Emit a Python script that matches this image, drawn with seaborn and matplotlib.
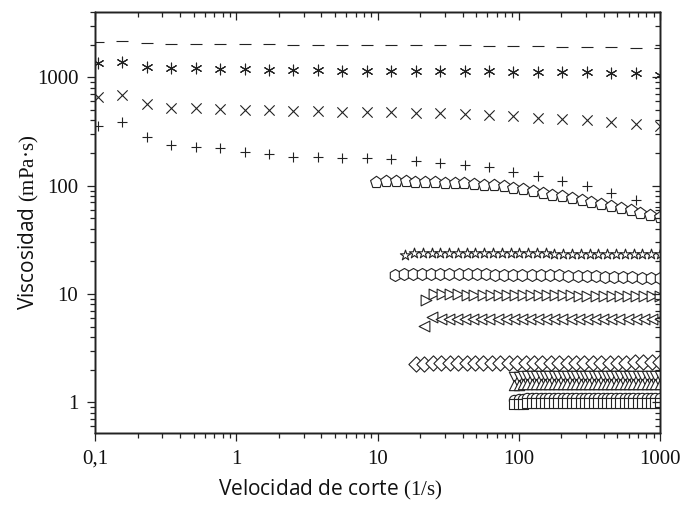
import matplotlib
matplotlib.use("Agg")
import matplotlib.pyplot as plt
import numpy as np
import pandas as pd
import seaborn as sns
from matplotlib.ticker import FixedLocator, FixedFormatter, LogLocator, NullFormatter

# ---------------- data ----------------
rate_a = [0.105, 0.156, 0.233, 0.347, 0.516, 0.769, 1.15, 1.71, 2.54, 3.78, 5.64, 8.39,
          12.5, 18.6, 27.7, 41.3, 61.5, 91.6, 136, 203, 303, 451, 671, 1000]
visc_dash = [2130, 2180, 2090, 2045, 2040, 2030, 2025, 2005, 2000, 1990, 1990, 1985,
             1985, 1980, 1975, 1970, 1960, 1950, 1935, 1915, 1900, 1885, 1870, 1850]
visc_aster = [1340, 1370, 1245, 1220, 1205, 1185, 1180, 1165, 1160, 1160, 1150, 1150,
              1150, 1150, 1150, 1145, 1145, 1125, 1125, 1110, 1110, 1100, 1090, 1050]
visc_cross = [650, 680, 570, 525, 520, 512, 503, 495, 485, 485, 477, 477,
              480, 471, 467, 461, 445, 435, 424, 409, 400, 386, 373, 355]
visc_plus = [355, 384, 282, 237, 229, 221, 205, 194, 185, 185, 181, 178,
             175, 168, 162, 155, 147, 132, 123, 111, 99, 86, 74, 63]

rate_pent = [9.79, 11.5, 13.5, 15.8, 18.5, 21.8, 25.5, 29.9, 35.1, 41.2, 48.3, 56.6, 66.4, 78.0, 91.4,
             107, 126, 148, 173, 203, 238, 279, 327, 384, 451, 528, 619, 726, 853, 1000]
visc_pent = [108.9, 109.3, 109.3, 109.3, 108.9, 108.2, 107.5, 106.6, 105.9, 105.2, 103.7, 102.1, 100.4, 98.3, 95.3,
             92.2, 89.3, 85.4, 82.4, 79.5, 76.6, 73.8, 71.1, 67.7, 64.2, 61.9, 59.0, 56.3, 53.6, 51.7]

rate_star = [15.7, 18.1, 20.9, 24.2, 27.9, 32.1, 37.1, 42.8, 49.4, 57.0, 65.8, 75.9, 87.5, 101, 117,
             135, 155, 179, 207, 239, 275, 318, 366, 424, 489, 564, 650, 750, 867, 1000]
visc_star = [23.1, 23.7, 23.8, 23.8, 23.8, 23.8, 23.8, 23.7, 23.7, 23.7, 23.7, 23.7, 23.6, 23.6, 23.6,
             23.6, 23.6, 23.5, 23.5, 23.5, 23.5, 23.5, 23.4, 23.4, 23.4, 23.4, 23.3, 23.3, 23.3, 23.3]

rate_hex = [13.2, 15.3, 17.8, 20.6, 23.9, 27.8, 32.3, 37.5, 43.5, 50.5, 58.6, 68.1, 79.1, 91.6, 106,
            124, 144, 167, 193, 224, 261, 303, 352, 407, 473, 550, 638, 741, 861, 1000]
visc_hex = [15.1, 15.2, 15.2, 15.3, 15.3, 15.3, 15.3, 15.3, 15.2, 15.2, 15.2, 15.1, 15.1, 15.0, 15.0,
            14.9, 14.9, 14.8, 14.8, 14.7, 14.6, 14.6, 14.5, 14.4, 14.3, 14.3, 14.2, 14.1, 14.0, 13.9]

rate_rtri = [22.1, 25.2, 28.7, 32.7, 37.3, 42.7, 48.6, 55.5, 63.2, 72.1, 82.2, 93.8, 107, 122, 139,
             159, 181, 207, 236, 269, 306, 350, 399, 455, 519, 592, 675, 769, 877, 1000]
visc_rtri = [8.7, 9.9, 9.9, 9.9, 9.9, 9.8, 9.8, 9.8, 9.8, 9.8, 9.8, 9.8, 9.7, 9.7, 9.7,
             9.7, 9.7, 9.7, 9.7, 9.6, 9.6, 9.6, 9.6, 9.6, 9.6, 9.6, 9.5, 9.5, 9.5, 9.5]

rate_ltri = [21.5, 24.5, 28.0, 32.0, 36.5, 41.7, 47.5, 54.3, 61.9, 70.8, 80.7, 92.3, 105, 120, 137,
             157, 179, 204, 233, 266, 303, 347, 395, 452, 515, 589, 671, 767, 875, 1000]
visc_ltri = [5.1, 6.1, 5.9, 5.9, 5.9, 5.9, 5.9, 5.9, 5.9, 5.9, 5.9, 5.9, 5.9, 5.9, 5.9,
             5.9, 5.9, 5.9, 5.9, 5.9, 5.9, 5.85, 5.85, 5.85, 5.85, 5.85, 5.85, 5.85, 5.85, 5.85]

rate_diam = [18.8, 21.5, 24.7, 28.3, 32.4, 37.2, 42.7, 49.0, 56.2, 64.4, 73.9, 84.9, 97.3, 112, 128,
             147, 169, 193, 222, 254, 292, 334, 384, 440, 505, 579, 664, 762, 873, 1000]
visc_diam = [2.25, 2.27, 2.28, 2.28, 2.29, 2.29, 2.29, 2.29, 2.30, 2.30, 2.30, 2.30, 2.30, 2.30, 2.30,
             2.31, 2.31, 2.31, 2.31, 2.31, 2.31, 2.32, 2.32, 2.32, 2.32, 2.32, 2.33, 2.33, 2.33, 2.33]

rate_low = [92.9, 99.8, 107, 115, 124, 133, 143, 154, 165, 177, 191, 205, 220, 237, 255, 274, 294,
            316, 340, 365, 392, 421, 453, 486, 522, 561, 604, 649, 697, 748, 805, 865, 929, 1000]
visc_dtri = [1.70, 1.72, 1.73, 1.73, 1.73, 1.73, 1.74, 1.74, 1.74, 1.74, 1.74, 1.74, 1.74, 1.74, 1.74, 1.74, 1.74,
             1.74, 1.74, 1.74, 1.74, 1.74, 1.74, 1.74, 1.74, 1.74, 1.74, 1.74, 1.74, 1.74, 1.73, 1.73, 1.73, 1.73]
visc_utri = [1.43, 1.45, 1.46, 1.46, 1.46, 1.46, 1.47, 1.47, 1.47, 1.47, 1.47, 1.47, 1.47, 1.47, 1.47, 1.47, 1.47,
             1.47, 1.47, 1.47, 1.47, 1.47, 1.47, 1.47, 1.47, 1.47, 1.47, 1.47, 1.47, 1.47, 1.46, 1.46, 1.46, 1.46]
visc_circ = [1.05, 1.07, 1.08, 1.09, 1.09, 1.09, 1.09, 1.09, 1.09, 1.09, 1.09, 1.10, 1.10, 1.10, 1.10, 1.10, 1.10,
             1.10, 1.10, 1.10, 1.10, 1.10, 1.10, 1.10, 1.10, 1.10, 1.10, 1.10, 1.10, 1.10, 1.10, 1.10, 1.10, 1.10]
visc_sq = [0.96, 0.97, 0.97, 0.98, 0.98, 0.98, 0.98, 0.98, 0.98, 0.98, 0.99, 0.99, 0.99, 0.99, 0.99, 0.99, 0.99,
           0.99, 0.99, 0.99, 0.99, 0.99, 0.99, 0.99, 0.99, 0.99, 0.99, 0.99, 0.99, 0.99, 0.99, 0.99, 0.99, 0.99]

x_ticks = [0.1, 1, 10, 100, 1000]
x_tick_labels = ["0,1", "1", "10", "100", "1000"]
y_ticks = [1, 10, 100, 1000]
y_tick_labels = ["1", "10", "100", "1000"]

# ---------------- styling ----------------
sns.set_theme(style="ticks")
plt.rcParams["font.family"] = ["Open Sans", "DejaVu Sans"]
plt.rcParams["mathtext.fontset"] = "custom"
plt.rcParams["mathtext.rm"] = "Liberation Serif"
plt.rcParams["mathtext.it"] = "Liberation Serif:italic"

INK = "#222222"

fig = plt.figure(figsize=(6.82, 5.08), dpi=100)
ax = fig.add_axes([95 / 682, 1 - 433 / 508, 565 / 682, 421 / 508])

series = [
    (rate_a, visc_dash, "_", 70, False),
    (rate_a, visc_aster, (6, 2, 0), 60, False),
    (rate_a, visc_cross, "x", 55, False),
    (rate_a, visc_plus, "+", 45, False),
    (rate_pent, visc_pent, "p", 80, True),
    (rate_star, visc_star, "*", 60, True),
    (rate_hex, visc_hex, "h", 75, True),
    (rate_rtri, visc_rtri, ">", 60, True),
    (rate_ltri, visc_ltri, "<", 60, True),
    (rate_diam, visc_diam, "D", 60, True),
    (rate_low, visc_dtri, "v", 55, True),
    (rate_low, visc_utri, "^", 55, True),
    (rate_low, visc_circ, "o", 55, True),
    (rate_low, visc_sq, "s", 45, True),
]

for xs, ys, mk, size, filled in series:
    df = pd.DataFrame({"rate": xs, "visc": ys})
    if filled:
        sns.scatterplot(data=df, x="rate", y="visc", marker=mk, s=size, color="white",
                        edgecolor=INK, linewidth=0.8, ax=ax, zorder=3, legend=False)
    else:
        sns.scatterplot(data=df, x="rate", y="visc", marker=mk, s=size, color=INK,
                        linewidth=0.8, ax=ax, zorder=3, legend=False)

ax.set_xscale("log")
ax.set_yscale("log")
ax.set_xlim(0.1, 1000)
ax.set_ylim(0.52, 4000)

ax.xaxis.set_major_locator(FixedLocator(x_ticks))
ax.xaxis.set_major_formatter(FixedFormatter(x_tick_labels))
ax.yaxis.set_major_locator(FixedLocator(y_ticks))
ax.yaxis.set_major_formatter(FixedFormatter(y_tick_labels))
for axis in (ax.xaxis, ax.yaxis):
    axis.set_minor_locator(LogLocator(base=10, subs=np.arange(2, 10), numticks=20))
    axis.set_minor_formatter(NullFormatter())

ax.tick_params(which="both", direction="out", color=INK, width=0.9, top=False, right=False)
ax.tick_params(which="major", length=6, pad=6)
ax.tick_params(which="minor", length=3.5)
for lab in ax.get_xticklabels() + ax.get_yticklabels():
    lab.set_fontfamily("Liberation Serif")
    lab.set_fontsize(15)
    lab.set_color("#111111")

for sp in ax.spines.values():
    sp.set_visible(True)
    sp.set_linewidth(1.0)
    sp.set_color(INK)

# inward ticks on top and right
axt = ax.twiny()
axt.set_xscale("log")
axt.set_xlim(ax.get_xlim())
axt.xaxis.set_major_locator(FixedLocator(x_ticks))
axt.xaxis.set_minor_locator(LogLocator(base=10, subs=np.arange(2, 10), numticks=20))
axt.tick_params(which="both", direction="in", color=INK, width=0.9, labeltop=False)
axt.tick_params(which="major", length=6)
axt.tick_params(which="minor", length=3.5)

axr = ax.twinx()
axr.set_yscale("log")
axr.set_ylim(ax.get_ylim())
axr.yaxis.set_major_locator(FixedLocator(y_ticks))
axr.yaxis.set_minor_locator(LogLocator(base=10, subs=np.arange(2, 10), numticks=20))
axr.tick_params(which="both", direction="in", color=INK, width=0.9, labelright=False)
axr.tick_params(which="major", length=6)
axr.tick_params(which="minor", length=3.5)
for a in (axt, axr):
    for sp in a.spines.values():
        sp.set_linewidth(1.0)
        sp.set_color(INK)

ax.set_xlabel(r"Velocidad de corte $\mathrm{(1/s)}$", fontsize=15, color="#111111")
ax.set_ylabel(r"Viscosidad $\mathrm{(mPa·s)}$", fontsize=15, color="#111111")
ax.xaxis.set_label_coords(0.416, -0.108)
ax.yaxis.set_label_coords(-0.095, 0.5)

fig.savefig("out.png", dpi=100)
